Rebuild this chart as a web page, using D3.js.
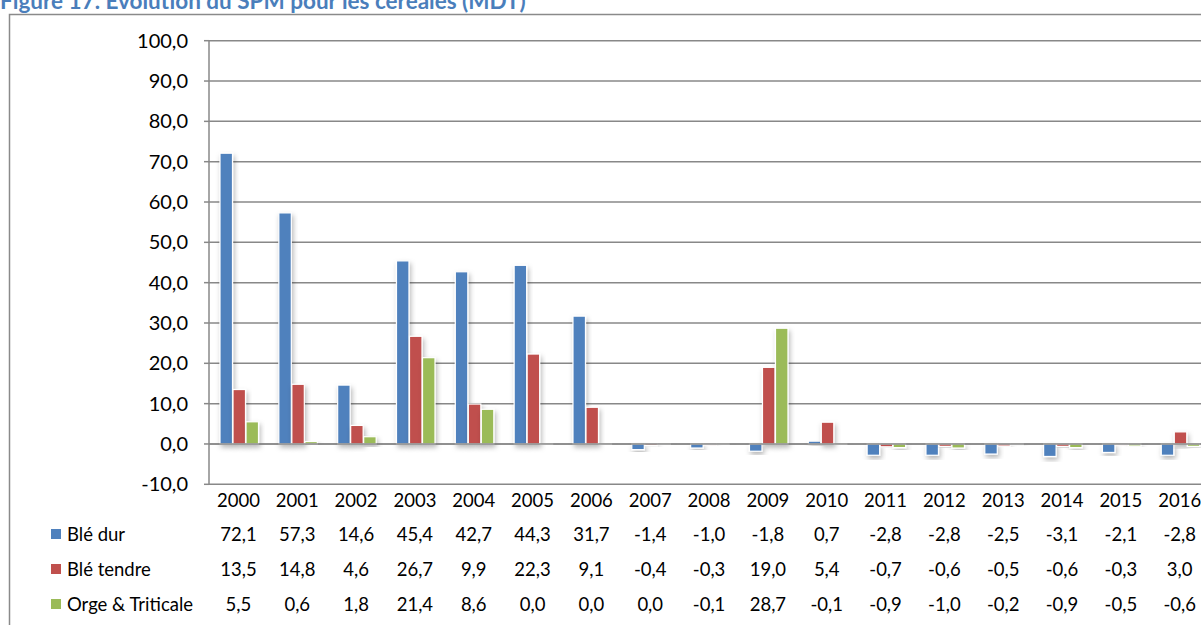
<!DOCTYPE html>
<html><head><meta charset="utf-8">
<script src="https://cdn.jsdelivr.net/npm/d3@7/dist/d3.min.js"></script>
<style>body{margin:0;background:#fff;overflow:hidden}svg{display:block}text{font-family:Lato,"Open Sans",sans-serif}</style>
</head><body>
<svg id="c" width="1201" height="625"></svg>
<script>
const years = ["2000","2001","2002","2003","2004","2005","2006","2007","2008","2009","2010","2011","2012","2013","2014","2015","2016"];
const bleDur = [72.1,57.3,14.6,45.4,42.7,44.3,31.7,-1.4,-1.0,-1.8,0.7,-2.8,-2.8,-2.5,-3.1,-2.1,-2.8];
const bleTendre = [13.5,14.8,4.6,26.7,9.9,22.3,9.1,-0.4,-0.3,19.0,5.4,-0.7,-0.6,-0.5,-0.6,-0.3,3.0];
const orge = [5.5,0.6,1.8,21.4,8.6,0.0,0.0,0.0,-0.1,28.7,-0.1,-0.9,-1.0,-0.2,-0.9,-0.5,-0.6];
const seriesNames = ["Blé dur","Blé tendre","Orge & Triticale"];
const colors = ["#4F81BD","#C0504D","#9BBB59"];
const yTicks = [-10,0,10,20,30,40,50,60,70,80,90,100];
const series = [bleDur,bleTendre,orge];

const svg = d3.select("#c");
const fmt = v => v.toFixed(1).replace(".",",");
const left = 209, catW = 58.83, right = left + catW*years.length;
const x = d3.scaleBand().domain(years).range([left,right]).paddingInner(0).paddingOuter(0);
const y = d3.scaleLinear().domain([-10,100]).range([484.3,40.7]);
const xs = d3.scaleBand().domain([0,1,2]).range([11,49.5]).paddingInner(0.04);

const defs = svg.append("defs");
const f = defs.append("filter").attr("id","sh").attr("x","-50%").attr("y","-20%").attr("width","200%").attr("height","160%");
f.append("feDropShadow").attr("dx",1.5).attr("dy",3).attr("stdDeviation",2.5).attr("flood-color","#000").attr("flood-opacity",0.28);

// outer frame
svg.append("rect").attr("x",9.5).attr("y",14.5).attr("width",1230).attr("height",640).attr("fill","none").attr("stroke","#8a8a8a").attr("stroke-width",1.5);

// title
svg.append("text").attr("x",0).attr("y",9).attr("fill","#4A7EBB").attr("font-weight","bold").attr("font-size",22.5)
  .text("Figure 17. Evolution du SPM pour les céréales (MDT)");

// gridlines
svg.append("g").selectAll("line").data(yTicks).join("line")
  .attr("x1",left).attr("x2",right).attr("y1",d=>y(d)).attr("y2",d=>y(d))
  .attr("stroke","#888").attr("stroke-width",1.5);
// y axis line
svg.append("line").attr("x1",left).attr("x2",left).attr("y1",y(100)).attr("y2",y(-10)).attr("stroke","#888").attr("stroke-width",1.5);
// ticks
svg.append("g").selectAll("line").data(yTicks).join("line")
  .attr("x1",left-5).attr("x2",left).attr("y1",d=>y(d)).attr("y2",d=>y(d)).attr("stroke","#888").attr("stroke-width",1.5);
svg.append("g").selectAll("text").data(yTicks).join("text")
  .attr("x",188).attr("y",d=>y(d)+7).attr("text-anchor","end").attr("font-size",20).attr("fill","#000")
  .text(d=>fmt(d));

// bars
const bars = svg.append("g");
series.forEach((s,i)=>{
  bars.append("g").selectAll("rect").data(s).join("rect")
    .attr("x",(d,j)=>x(years[j])+xs(i))
    .attr("width",xs.bandwidth())
    .attr("y",d=>Math.min(y(d),y(0)))
    .attr("height",d=>Math.max(Math.abs(y(d)-y(0)),0.6))
    .attr("fill",colors[i]).attr("stroke","#fff").attr("stroke-width",1.2)
    .attr("filter","url(#sh)");
});
// zero line on top
svg.append("line").attr("x1",left).attr("x2",right).attr("y1",y(0)).attr("y2",y(0)).attr("stroke","#888").attr("stroke-width",1.5);

// data table
svg.append("g").selectAll("text").data(years).join("text")
  .attr("x",d=>x(d)+x.bandwidth()/2).attr("y",507).attr("text-anchor","middle").attr("font-size",18.5).text(d=>d);
const rowY = [541,576,611];
series.forEach((s,i)=>{
  svg.append("rect").attr("x",51).attr("y",rowY[i]-12).attr("width",10).attr("height",10).attr("fill",colors[i]);
  svg.append("text").attr("x",67).attr("y",rowY[i]).attr("font-size",18.5).text(seriesNames[i]);
  svg.append("g").selectAll("text").data(s).join("text")
    .attr("x",(d,j)=>x(years[j])+x.bandwidth()/2).attr("y",rowY[i]).attr("text-anchor","middle").attr("font-size",18.5)
    .text(d=>fmt(d));
});
</script>
</body></html>
